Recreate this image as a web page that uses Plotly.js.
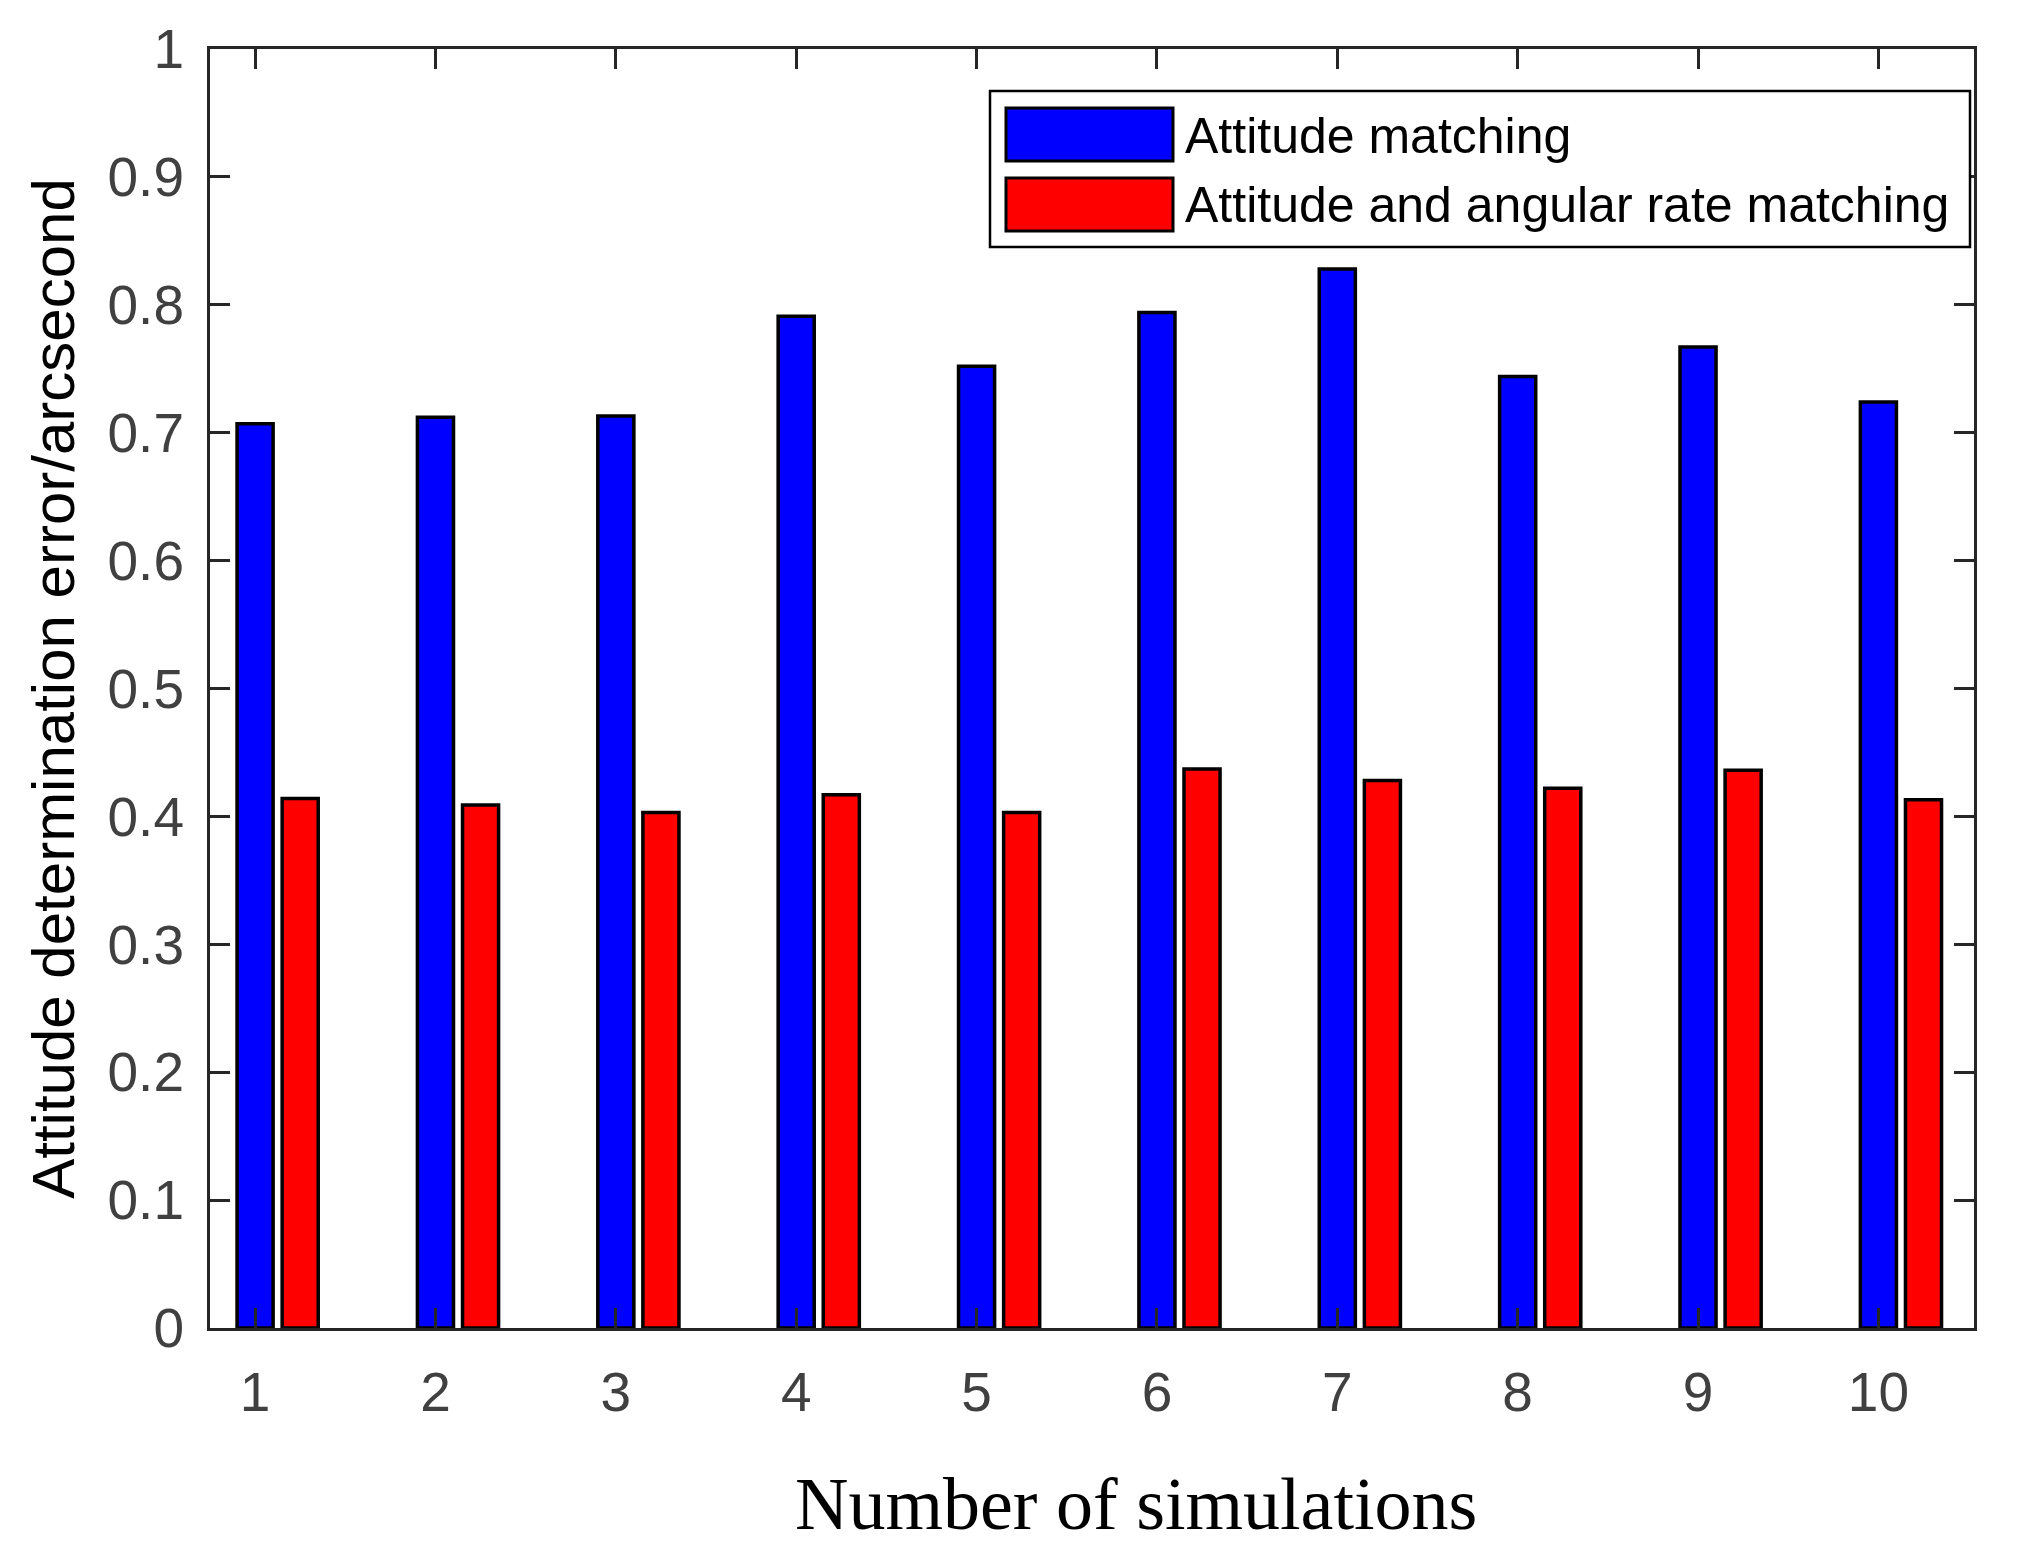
<!DOCTYPE html>
<html><head><meta charset="utf-8">
<script src="https://cdn.plot.ly/plotly-3.0.1.min.js"></script>
<style>html,body{margin:0;padding:0;background:#fff}#chart{width:2036px;height:1545px}</style>
</head><body><div id="chart"></div>
<script>
const simulations = [1,2,3,4,5,6,7,8,9,10];
const attitudeMatching = [0.707,0.712,0.713,0.791,0.752,0.794,0.828,0.744,0.767,0.724];
const attitudeRateMatching = [0.414,0.409,0.403,0.417,0.403,0.437,0.428,0.422,0.436,0.413];
const seriesNames = ['Attitude matching','Attitude and angular rate matching'];
const yTicks = [0,0.1,0.2,0.3,0.4,0.5,0.6,0.7,0.8,0.9,1];
const xTitle = 'Number of simulations';
const yTitle = 'Attitude determination error/arcsecond';

const W=2036,H=1545,L=210,R=62,T=49,B=217;
const pw=W-L-R, ph=H-T-B;
const px=x=>(x-L)/pw, py=y=>(H-B-y)/ph;

const axisColor='#262626';
const tickFont={family:'Liberation Sans, Arial, sans-serif',size:55,color:'#404040'};

const traces=[
 {type:'bar',x:simulations,y:attitudeMatching,name:seriesNames[0],width:0.2,offset:-0.1,
  marker:{color:'#0000ff',line:{color:'#000',width:3.5}},showlegend:false},
 {type:'bar',x:simulations,y:attitudeRateMatching,name:seriesNames[1],width:0.2,offset:0.15,
  marker:{color:'#ff0000',line:{color:'#000',width:3.5}},showlegend:false}
];

const shapes=[
 {type:'rect',xref:'paper',yref:'paper',x0:px(990),x1:px(1970),y0:py(247),y1:py(91),
  line:{color:'#000',width:2.5},fillcolor:'#fff',layer:'above'},
 {type:'rect',xref:'paper',yref:'paper',x0:px(1006),x1:px(1173),y0:py(161),y1:py(108),
  line:{color:'#000',width:3},fillcolor:'#0000ff',layer:'above'},
 {type:'rect',xref:'paper',yref:'paper',x0:px(1006),x1:px(1173),y0:py(231),y1:py(178),
  line:{color:'#000',width:3},fillcolor:'#ff0000',layer:'above'}
];
const legFont={family:'Liberation Sans, Arial, sans-serif',size:50,color:'#000'};
const annotations=[
 {xref:'paper',yref:'paper',x:px(1183),y:py(136),text:seriesNames[0],showarrow:false,xanchor:'left',yanchor:'middle',font:legFont},
 {xref:'paper',yref:'paper',x:px(1183),y:py(205),text:seriesNames[1],showarrow:false,xanchor:'left',yanchor:'middle',font:legFont},
 {xref:'paper',yref:'paper',x:px(1136),y:py(1504),text:xTitle,showarrow:false,xanchor:'center',yanchor:'middle',
  font:{family:'Liberation Serif, Times New Roman, serif',size:74,color:'#000'}}
];

const layout={
 width:W,height:H,margin:{l:L,r:R,t:T,b:B,pad:0},
 paper_bgcolor:'#fff',plot_bgcolor:'#fff',barmode:'overlay',
 xaxis:{range:[0.75,10.53],tickmode:'array',tickvals:simulations,ticktext:simulations.map(String),
  ticks:'inside',ticklen:20,tickwidth:3,tickcolor:axisColor,showline:true,linecolor:axisColor,linewidth:3,
  mirror:'ticks',showgrid:false,zeroline:false,tickfont:tickFont,ticklabelstandoff:14},
 yaxis:{range:[0,1],tickmode:'array',tickvals:yTicks,ticktext:yTicks.map(String),
  ticks:'inside',ticklen:20,tickwidth:3,tickcolor:axisColor,showline:true,linecolor:axisColor,linewidth:3,
  mirror:'ticks',showgrid:false,zeroline:false,tickfont:tickFont,ticklabelstandoff:12,
  title:{text:yTitle,font:{family:'Liberation Sans, Arial, sans-serif',size:60,color:'#000'},standoff:14}},
 shapes:shapes,annotations:annotations
};
Plotly.newPlot('chart',traces,layout,{staticPlot:true,displayModeBar:false});
</script></body></html>
